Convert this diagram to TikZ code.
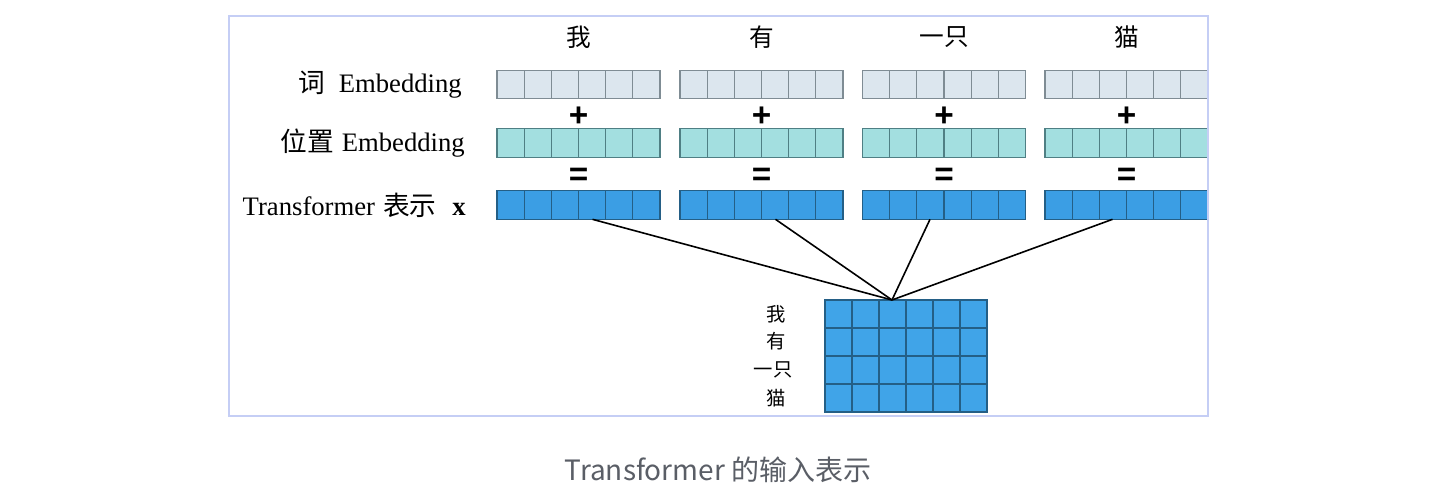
\documentclass[tikz,border=0pt]{standalone}
\usepackage{fontspec}
\setmainfont{Liberation Serif}
\newfontfamily\cjk{Noto Sans CJK SC}
\newfontfamily\opfont{Liberation Sans}
\usetikzlibrary{calc}
\definecolor{framec}{HTML}{C5CEF5}
\definecolor{wfill}{HTML}{DCE6EE}
\definecolor{pfill}{HTML}{A3DFE0}
\definecolor{tfill}{HTML}{3B9EE4}
\definecolor{mfill}{HTML}{40A4E8}
\definecolor{wline}{HTML}{7F8C94}
\definecolor{pline}{HTML}{4F7F84}
\definecolor{tline}{HTML}{245F86}
\definecolor{capc}{HTML}{5A5E66}
\begin{document}
\begin{tikzpicture}[x=0.75pt,y=-0.75pt,
  bar/.style={draw, line width=0.9pt, minimum width=122.25pt, minimum height=21.5pt, inner sep=0pt, outer sep=0pt},
  wbar/.style={bar, fill=wfill, draw=wline},
  pbar/.style={bar, fill=pfill, draw=pline},
  tbar/.style={bar, fill=tfill, draw=tline},
  lab/.style={anchor=east, inner sep=0pt, font=\fontsize{20pt}{23pt}\selectfont},
  word/.style={inner sep=0pt, font=\cjk\fontsize{18.5pt}{21pt}\selectfont},
  op/.style={inner sep=0pt, font=\opfont\bfseries\fontsize{25pt}{28pt}\selectfont},
  rowlab/.style={inner sep=0pt, font=\cjk\fontsize{14.5pt}{17pt}\selectfont},
  conn/.style={line width=1.2pt, black}]
\useasboundingbox (0,0) rectangle (1446,498);
\fill[white] (0,0) rectangle (1446,498);
% bars
\foreach \n/\cx in {1/578.5, 2/761.5, 3/944, 4/1126.5} {
  \node[wbar] (w\n) at (\cx,84.5) {};
  \node[pbar] (p\n) at (\cx,143) {};
  \node[tbar] (t\n) at (\cx,205) {};
  \foreach \r/\lc in {w/wline, p/pline, t/tline}
    \foreach \i in {1,...,5}
      \draw[line width=0.9pt, draw=\lc] ($(\r\n.north west)!\i/6!(\r\n.north east)$) -- ($(\r\n.south west)!\i/6!(\r\n.south east)$);
  \node[op] (plus\n) at (\cx,117) {+};
  \node[op] (eq\n) at (\cx,176.5) {=};
}
% words
\node[word] (s1) at (578.5,37) {我};
\node[word] (s2) at (761.5,37) {有};
\node[word] (s3) at (944,37) {一只};
\node[word] (s4) at (1126.5,37) {猫};
% labels
\node[lab] (lw) at (462,85) {{\cjk 词}\hspace{0.5em}Embedding};
\node[lab] (lp) at (465,143) {{\cjk 位置}\hspace{0.3em}Embedding};
\node[lab] (lt) at (466,205) {Transformer\hspace{0.3em}{\cjk 表示}\hspace{0.6em}\textbf{x}};
% matrix
\node[draw=tline, fill=mfill, line width=0.9pt, minimum width=121.5pt, minimum height=84pt, inner sep=0pt, outer sep=0pt] (M) at (906,356) {};
\foreach \i in {1,...,5}
  \draw[line width=0.9pt, draw=tline] ($(M.north west)!\i/6!(M.north east)$) -- ($(M.south west)!\i/6!(M.south east)$);
\foreach \i in {1,2,3}
  \draw[line width=0.9pt, draw=tline] ($(M.north west)!\i/4!(M.south west)$) -- ($(M.north east)!\i/4!(M.south east)$);
\node[rowlab] (r1) at (776,314) {我};
\node[rowlab] (r2) at (776,341) {有};
\node[rowlab] (r3) at (773,370) {一只};
\node[rowlab] (r4) at (776,398) {猫};
% connectors
\coordinate (hub) at ($(M.north)+(-14,0)$);
\draw[conn] ($(t1.south)+(14,0)$) -- (hub);
\draw[conn] ($(t2.south)+(14,0)$) -- (hub);
\draw[conn] ($(t3.south)+(-14,0)$) -- (hub);
\draw[conn] ($(t4.south)+(-14,0)$) -- (hub);
% frame
\draw[framec, line width=1.6pt] (229,16) rectangle (1208,416);
% caption
\node[inner sep=0pt, text=capc, font=\cjk\fontsize{21pt}{24pt}\selectfont] (cap) at (718,470) {Transformer 的输入表示};
\end{tikzpicture}
\end{document}
